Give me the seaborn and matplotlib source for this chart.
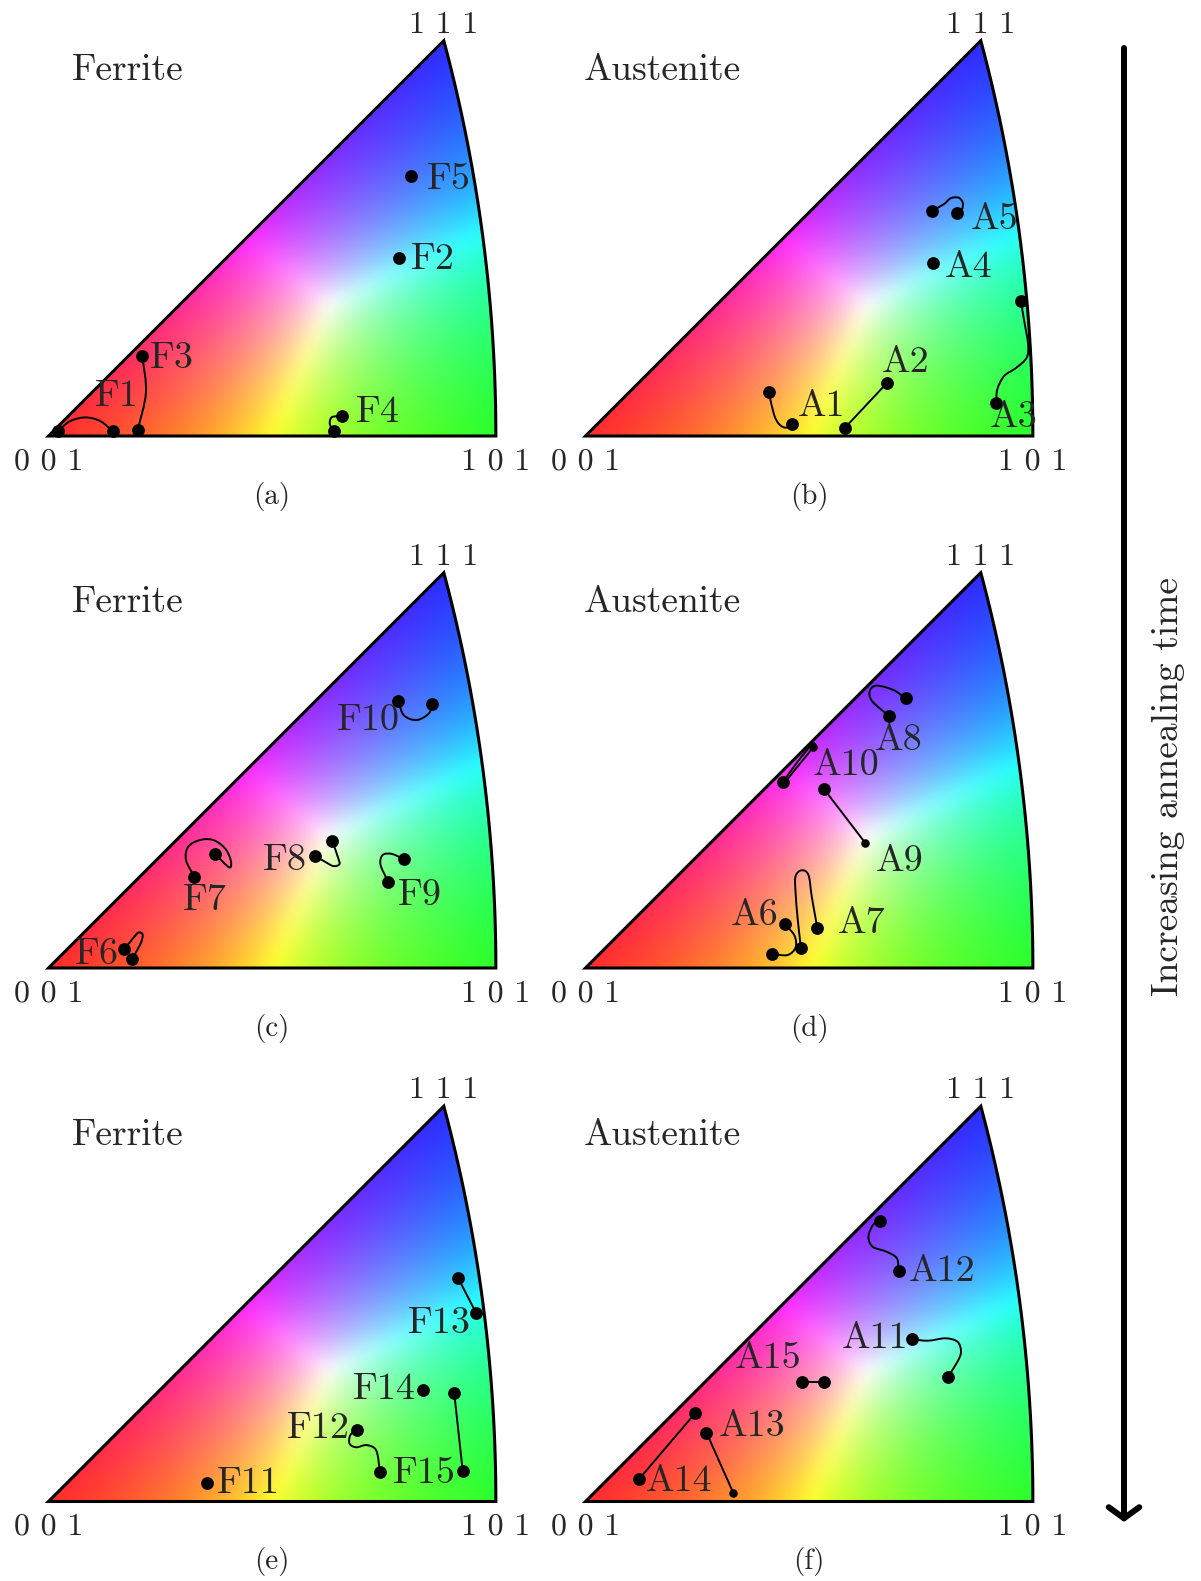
import numpy as np
import matplotlib
matplotlib.use("Agg")
import matplotlib.pyplot as plt
from matplotlib.path import Path
from matplotlib.patches import PathPatch
import seaborn as sns

# ---------------------------------------------------------------------------
# Orientations in stereographic coordinates of the [001]-[101]-[111]
# standard triangle.  *_DOTS: measured orientations of every grain,
# *_PATHS: the drawn trajectory shape (waypoints), *_LABELS: grain names.
# ---------------------------------------------------------------------------
FERRITE_A_DOTS = {
    "F1": [(0.0090, 0.0044), (0.0594, 0.0044)],
    "F2": [(0.3245, 0.1650)],
    "F3": [(0.0869, 0.0745), (0.0826, 0.0051)],
    "F4": [(0.2720, 0.0183), (0.2644, 0.0044)],
    "F5": [(0.3354, 0.2406)],
}
FERRITE_A_PATHS = {
    "F1": [(0.0090, 0.0044), (0.0195, 0.0135), (0.0340, 0.0172), (0.0480, 0.0138), (0.0594, 0.0044)],
    "F3": [(0.0869, 0.0745), (0.0902, 0.0403), (0.0826, 0.0051)],
    "F4": [(0.2720, 0.0183), (0.2625, 0.0175), (0.2605, 0.0110), (0.2644, 0.0044)],
}
FERRITE_A_LABELS = {"F1": (0.0430, 0.0369), "F2": (0.3354, 0.1634), "F3": (0.0940, 0.0718),
                    "F4": (0.2847, 0.0218), "F5": (0.3502, 0.2375)}

AUSTENITE_B_DOTS = {
    "A1": [(0.1697, 0.0407), (0.1912, 0.0108)],
    "A2": [(0.2794, 0.0494), (0.2403, 0.0077)],
    "A3": [(0.4031, 0.1250), (0.3804, 0.0303)],
    "A4": [(0.3214, 0.1605)],
    "A5": [(0.3204, 0.2083), (0.3444, 0.2062)],
}
AUSTENITE_B_PATHS = {
    "A1": [(0.1697, 0.0407), (0.1745, 0.0200), (0.1794, 0.0108), (0.1857, 0.0077), (0.1912, 0.0108)],
    "A2": [(0.2794, 0.0494), (0.2403, 0.0077)],
    "A3": [(0.4031, 0.1250), (0.4062, 0.1065), (0.4098, 0.0850), (0.4085, 0.0725), (0.3989, 0.0632),
           (0.3877, 0.0556), (0.3813, 0.0432), (0.3804, 0.0303)],
    "A5": [(0.3204, 0.2083), (0.3316, 0.2145), (0.3381, 0.2201), (0.3454, 0.2207), (0.3493, 0.2160),
           (0.3486, 0.2099), (0.3444, 0.2062)],
}
AUSTENITE_B_LABELS = {"A1": (0.1968, 0.0278), "A2": (0.2739, 0.0679), "A3": (0.3747, 0.0170),
                      "A4": (0.3322, 0.1558), "A5": (0.3563, 0.2006)}

FERRITE_C_DOTS = {
    "F6": [(0.0699, 0.0173), (0.0770, 0.0081)],
    "F7": [(0.1350, 0.0845), (0.1542, 0.1056)],
    "F8": [(0.2468, 0.1037), (0.2628, 0.1176)],
    "F9": [(0.3292, 0.1006), (0.3146, 0.0796)],
    "F10": [(0.3239, 0.2475), (0.3554, 0.2444)],
}
FERRITE_C_PATHS = {
    "F6": [(0.0699, 0.0173), (0.0770, 0.0259), (0.0831, 0.0327), (0.0872, 0.0306), (0.0847, 0.0213),
           (0.0770, 0.0081)],
    "F7": [(0.1350, 0.0845), (0.1273, 0.1000), (0.1294, 0.1123), (0.1403, 0.1185), (0.1526, 0.1185),
           (0.1634, 0.1108), (0.1687, 0.1000), (0.1674, 0.0932), (0.1542, 0.1056)],
    "F8": [(0.2468, 0.1037), (0.2560, 0.0984), (0.2637, 0.0944), (0.2693, 0.0960), (0.2683, 0.1016),
           (0.2628, 0.1176)],
    "F9": [(0.3292, 0.1006), (0.3180, 0.1056), (0.3094, 0.1046), (0.3075, 0.0954), (0.3146, 0.0796)],
    "F10": [(0.3239, 0.2475), (0.3290, 0.2340), (0.3409, 0.2296), (0.3520, 0.2355), (0.3554, 0.2444)],
}
FERRITE_C_LABELS = {"F6": (0.0245, 0.0130), "F7": (0.1243, 0.0630), "F8": (0.1989, 0.1000),
                    "F9": (0.3239, 0.0676), "F10": (0.2674, 0.2296)}

AUSTENITE_D_DOTS = {
    "A6": [(0.1848, 0.0405), (0.1730, 0.0130)],
    "A7": [(0.1995, 0.0182), (0.2146, 0.0373)],
    "A8": [(0.2964, 0.2497), (0.2810, 0.2333)],
    "A9": [(0.2210, 0.1655), (0.2589, 0.1160)],
    "A10": [(0.1826, 0.1719), (0.2107, 0.2049)],
}
AUSTENITE_D_PATHS = {
    "A6": [(0.1848, 0.0405), (0.1935, 0.0300), (0.1945, 0.0190), (0.1870, 0.0120), (0.1730, 0.0130)],
    "A7": [(0.1995, 0.0182), (0.1965, 0.0450), (0.1945, 0.0700), (0.1945, 0.0850), (0.2002, 0.0905),
           (0.2065, 0.0860), (0.2095, 0.0660), (0.2146, 0.0373)],
    "A8": [(0.2964, 0.2497), (0.2851, 0.2574), (0.2695, 0.2615), (0.2632, 0.2565), (0.2655, 0.2470),
           (0.2810, 0.2333)],
    "A9": [(0.2210, 0.1655), (0.2589, 0.1160)],
    "A10": [(0.1826, 0.1719), (0.1960, 0.1905), (0.2095, 0.2068), (0.2112, 0.2050), (0.1975, 0.1880),
            (0.1860, 0.1735)],
}
AUSTENITE_D_LABELS = {"A6": (0.1345, 0.0491), "A7": (0.2338, 0.0414), "A8": (0.2675, 0.2111),
                      "A9": (0.2691, 0.0984), "A10": (0.2107, 0.1880)}

FERRITE_E_DOTS = {
    "F11": [(0.1465, 0.0169)],
    "F12": [(0.2854, 0.0662), (0.3069, 0.0276)],
    "F13": [(0.3794, 0.2067), (0.3958, 0.1748)],
    "F14": [(0.3470, 0.1032)],
    "F15": [(0.3757, 0.1002), (0.3835, 0.0285)],
}
FERRITE_E_PATHS = {
    "F12": [(0.2854, 0.0662), (0.2795, 0.0615), (0.2788, 0.0535), (0.2850, 0.0502), (0.2946, 0.0522),
            (0.3035, 0.0472), (0.3069, 0.0276)],
    "F13": [(0.3794, 0.2067), (0.3958, 0.1748)],
    "F15": [(0.3757, 0.1002), (0.3835, 0.0285)],
}
FERRITE_E_LABELS = {"F11": (0.1557, 0.0169), "F12": (0.2205, 0.0678), "F13": (0.3331, 0.1650),
                    "F14": (0.2817, 0.1039), "F15": (0.3193, 0.0261)}

AUSTENITE_F_DOTS = {
    "A11": [(0.3021, 0.1502), (0.3357, 0.1156)],
    "A12": [(0.2723, 0.2597), (0.2899, 0.2134)],
    "A13": [(0.1120, 0.0637), (0.1368, 0.0081)],
    "A14": [(0.0499, 0.0211), (0.1015, 0.0817)],
    "A15": [(0.2002, 0.1109), (0.2210, 0.1104)],
}
AUSTENITE_F_PATHS = {
    "A11": [(0.3021, 0.1502), (0.3172, 0.1489), (0.3332, 0.1511), (0.3444, 0.1480), (0.3477, 0.1387),
            (0.3444, 0.1294), (0.3357, 0.1156)],
    "A12": [(0.2723, 0.2597), (0.2662, 0.2560), (0.2620, 0.2452), (0.2659, 0.2359), (0.2787, 0.2313),
            (0.2883, 0.2252), (0.2899, 0.2134)],
    "A13": [(0.1120, 0.0637), (0.1368, 0.0081)],
    "A14": [(0.0499, 0.0211), (0.1015, 0.0817)],
    "A15": [(0.2002, 0.1109), (0.2210, 0.1104)],
}
AUSTENITE_F_LABELS = {"A11": (0.2370, 0.1511), "A12": (0.2995, 0.2128), "A13": (0.1236, 0.0693),
                      "A14": (0.0560, 0.0183), "A15": (0.1383, 0.1326)}

# grains whose second dot is drawn smaller
SMALL_SECOND_DOT = ["A9", "A10", "A13"]

PHASES = ["Ferrite", "Austenite"]
CAPTIONS = ["(a)", "(b)", "(c)", "(d)", "(e)", "(f)"]
POLE_LABELS = ["0 0 1", "1 0 1", "1 1 1"]
TIME_LABEL = "Increasing annealing time"

# ---------------------------------------------------------------------------
# Layout
# ---------------------------------------------------------------------------
W, H, DPI = 1201, 1581, 100
SCALE = 1080.0                       # pixels per stereographic unit
COL_X0 = [48.5, 585.5]               # pixel x of [001] in each column
ROW_Y0 = [436.0, 968.0, 1501.5]      # pixel y of [001] in each row
XLIM = (-0.045, 0.46)
YLIM = (-0.08, 0.40)

T101 = np.sqrt(2.0) - 1.0            # projection of [101]
S111 = 1.0 / (np.sqrt(3.0) + 1.0)    # projection of [111] (x = y)

sns.set_theme(style="white")
plt.rcParams["font.family"] = ["cmr10", "DejaVu Serif"]
plt.rcParams["mathtext.fontset"] = "cm"
plt.rcParams["axes.formatter.use_mathtext"] = True


def sector_path():
    """Closed outline of the standard triangle (arc = great circle x = z)."""
    phi = np.arctan2(S111, 1.0 + S111)
    th = np.linspace(0.0, phi, 80)
    arc = np.column_stack([-1.0 + np.sqrt(2.0) * np.cos(th), np.sqrt(2.0) * np.sin(th)])
    verts = np.vstack([[0.0, 0.0], arc, [0.0, 0.0]])
    codes = [Path.MOVETO] + [Path.LINETO] * len(arc) + [Path.CLOSEPOLY]
    return Path(verts, codes)


def smooth_field(a, sigma):
    """Separable Gaussian smoothing of an (ny, nx, 3) colour field."""
    r = int(3 * sigma)
    k = np.exp(-0.5 * (np.arange(-r, r + 1) / sigma) ** 2)
    k /= k.sum()
    for axis in (0, 1):
        pad = [(0, 0)] * a.ndim
        pad[axis] = (r, r)
        p = np.pad(a, pad, mode="edge")
        n = a.shape[axis]
        out = np.zeros_like(a)
        for j, w in enumerate(k):
            sl = [slice(None)] * a.ndim
            sl[axis] = slice(j, j + n)
            out += w * p[tuple(sl)]
        a = out
    return a


def ipf_colours(nx=700, ny=640):
    xs = np.linspace(0.0, T101, nx)
    ys = np.linspace(0.0, S111, ny)
    X, Y = np.meshgrid(xs, ys)
    lb = Y / S111
    lg = (X - Y) / T101
    lr = 1.0 - lg - lb
    rgb = np.clip(np.dstack([lr, lg, lb]), 0.0, None)
    rgb = rgb / np.maximum(rgb.max(axis=2, keepdims=True), 1e-9)
    rgb = 0.17 + 0.83 * rgb
    rgb = smooth_field(rgb, 11.0)
    return np.clip(rgb, 0, 1)


def smooth_path(points):
    """Catmull-Rom curve through the waypoints, as cubic Bezier segments."""
    P = np.asarray(points, float)
    if len(P) == 2:
        return Path(P, [Path.MOVETO, Path.LINETO])
    ext = np.vstack([2 * P[0] - P[1], P, 2 * P[-1] - P[-2]])
    verts, codes = [P[0]], [Path.MOVETO]
    for i in range(1, len(P)):
        p0, p1, p2, p3 = ext[i - 1], ext[i], ext[i + 1], ext[i + 2]
        verts += [p1 + (p2 - p0) / 6.0, p2 - (p3 - p1) / 6.0, p2]
        codes += [Path.CURVE4] * 3
    return Path(verts, codes)


fig = plt.figure(figsize=(W / DPI, H / DPI), dpi=DPI)
colours = ipf_colours()

panels = [
    (FERRITE_A_DOTS, FERRITE_A_PATHS, FERRITE_A_LABELS),
    (AUSTENITE_B_DOTS, AUSTENITE_B_PATHS, AUSTENITE_B_LABELS),
    (FERRITE_C_DOTS, FERRITE_C_PATHS, FERRITE_C_LABELS),
    (AUSTENITE_D_DOTS, AUSTENITE_D_PATHS, AUSTENITE_D_LABELS),
    (FERRITE_E_DOTS, FERRITE_E_PATHS, FERRITE_E_LABELS),
    (AUSTENITE_F_DOTS, AUSTENITE_F_PATHS, AUSTENITE_F_LABELS),
]

for k, (dots, paths, labels) in enumerate(panels):
    row, col = divmod(k, 2)
    x0, y0 = COL_X0[col], ROW_Y0[row]
    left = (x0 + XLIM[0] * SCALE) / W
    bottom = 1.0 - (y0 - YLIM[0] * SCALE) / H
    ax = fig.add_axes([left, bottom, (XLIM[1] - XLIM[0]) * SCALE / W,
                       (YLIM[1] - YLIM[0]) * SCALE / H])
    ax.set_xlim(*XLIM)
    ax.set_ylim(*YLIM)
    ax.set_aspect("equal")
    ax.axis("off")

    outline = sector_path()
    clip = PathPatch(outline, facecolor="none", edgecolor="none", transform=ax.transData)
    ax.add_patch(clip)
    img = ax.imshow(colours, origin="lower", extent=[0, T101, 0, S111],
                    interpolation="bilinear", zorder=1)
    img.set_clip_path(clip)
    ax.add_patch(PathPatch(outline, facecolor="none", edgecolor="black", lw=2.2,
                           joinstyle="miter", zorder=3))

    # trajectories
    for name, pts in paths.items():
        ax.add_patch(PathPatch(smooth_path(pts), facecolor="none", edgecolor="black",
                               lw=1.4, capstyle="round", zorder=4))
    # measured orientations
    big_x, big_y, small_x, small_y = [], [], [], []
    for name, pts in dots.items():
        for i, (px, py) in enumerate(pts):
            if i == 1 and name in SMALL_SECOND_DOT:
                small_x.append(px); small_y.append(py)
            else:
                big_x.append(px); big_y.append(py)
    sns.scatterplot(x=big_x, y=big_y, s=85, color="black", linewidth=0, ax=ax, zorder=5,
                    legend=False)
    if small_x:
        sns.scatterplot(x=small_x, y=small_y, s=38, color="black", linewidth=0, ax=ax,
                        zorder=5, legend=False)
    for name, (lx, ly) in labels.items():
        ax.text(lx, ly, name, fontsize=27.5, ha="left", va="center", zorder=6)

    # poles, phase and caption
    ax.text(0.0, -0.031, POLE_LABELS[0], fontsize=23, ha="center", va="baseline")
    ax.text(T101, -0.031, POLE_LABELS[1], fontsize=23, ha="center", va="baseline")
    ax.text(S111, S111 + 0.0075, POLE_LABELS[2], fontsize=23, ha="center", va="baseline")
    ax.text(0.0218 if col == 0 else -0.002, 0.330, PHASES[col], fontsize=27, ha="left",
            va="baseline")
    ax.text(T101 / 2, -0.056, CAPTIONS[k], fontsize=21, ha="center", va="center")

# annealing-time arrow on the right
ov = fig.add_axes([0, 0, 1, 1])
ov.set_xlim(0, W)
ov.set_ylim(H, 0)
ov.axis("off")
ov.annotate("", xy=(1124, 1522), xytext=(1124, 48),
            arrowprops=dict(arrowstyle="->, head_length=0.4, head_width=0.55",
                            lw=4.3, color="black", mutation_scale=20,
                            shrinkA=0, shrinkB=0))
ov.text(1168, 786, TIME_LABEL, fontsize=27, rotation=90, ha="center", va="center")

fig.savefig("out.png", dpi=DPI)
